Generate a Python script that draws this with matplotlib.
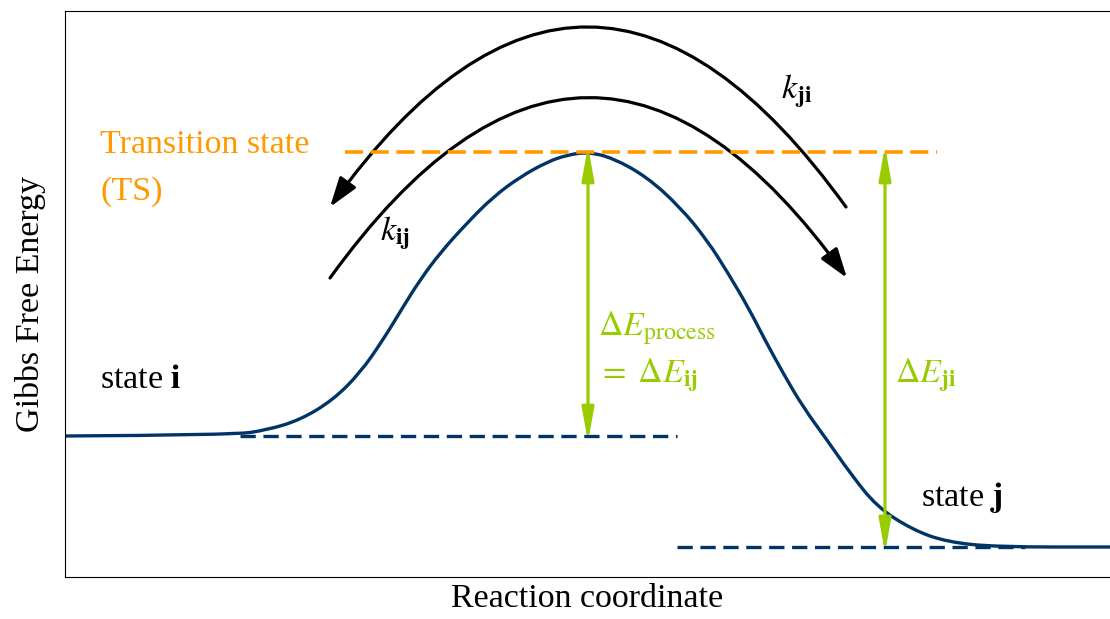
import matplotlib
matplotlib.use("Agg")
import matplotlib.pyplot as plt
from matplotlib.path import Path
from matplotlib.patches import PathPatch, FancyArrowPatch

plt.rcParams["font.family"] = "serif"
plt.rcParams["font.serif"] = ["Liberation Serif", "DejaVu Serif"]
plt.rcParams["mathtext.fontset"] = "stix"
plt.rcParams["lines.scale_dashes"] = False

NAVY = "#003366"
ORANGE = "#FF9900"
GREEN = "#99CC00"

# energy levels (arbitrary units)
E_i = 141
E_ts = 425
E_j = 30

# reaction profile
curve_x = [0, 168, 202, 235, 268, 295, 318, 338, 355, 375, 402, 428, 455, 482,
           502, 523, 548, 582, 615, 642, 663, 683, 700, 718, 738, 762, 785, 812,
           848, 882, 932, 1045]
curve_E = [141, 142, 147, 157, 177, 204, 237, 270, 297, 324, 354, 380, 400, 415,
           422, 425, 419, 400, 370, 337, 304, 270, 237, 204, 170, 137, 104, 70,
           47, 35, 30, 30]

# extent of the dashed reference levels
ts_span = [280, 872]
i_span = [175, 612]
j_span = [612, 960]

# x positions of the barrier arrows
x_barrier_ij = 523
x_barrier_ji = 820

fig = plt.figure(figsize=(11.1, 6.19), dpi=100)
ax = fig.add_axes([65 / 1110, 42 / 619, 1045 / 1110, 566 / 619])
ax.set_xlim(0, 1045)
ax.set_ylim(0, 566)
ax.set_xticks([])
ax.set_yticks([])
ax.spines["right"].set_visible(False)

# rate arrows (k_ji over the top, k_ij underneath)
arc_style = "-|>,head_length=0.9,head_width=0.3"
ax.add_patch(FancyArrowPatch((781, 370), (265, 370), arrowstyle=arc_style,
                             connectionstyle="arc3,rad=0.694", color="black",
                             lw=2.3, shrinkA=0, shrinkB=0, mutation_scale=20))
ax.add_patch(FancyArrowPatch((265, 299), (782, 299), arrowstyle=arc_style,
                             connectionstyle="arc3,rad=-0.694", color="black",
                             lw=2.3, shrinkA=0, shrinkB=0, mutation_scale=20))

# levels
ax.plot(ts_span, [E_ts, E_ts], color=ORANGE, lw=2.6, dashes=(13, 5.5))
ax.plot(i_span, [E_i, E_i], color=NAVY, lw=2.4, dashes=(11, 5.5))
ax.plot(j_span, [E_j, E_j], color=NAVY, lw=2.4, dashes=(11, 5.5))

# smooth the read points with quadratic segments through the midpoints
pts = list(zip(curve_x, curve_E))
verts = [pts[0]]
codes = [Path.MOVETO]
for k in range(1, len(pts) - 1):
    mid = ((pts[k][0] + pts[k + 1][0]) / 2, (pts[k][1] + pts[k + 1][1]) / 2)
    verts += [pts[k], mid]
    codes += [Path.CURVE3, Path.CURVE3]
verts.append(pts[-1])
codes.append(Path.LINETO)
ax.add_patch(PathPatch(Path(verts, codes), fill=False, edgecolor=NAVY, lw=2.4,
                       capstyle="round", joinstyle="round"))

# barrier arrows; narrow heads get pulled back by the stroke, so pad the tips
tip = 6
bar_style = "<|-|>,head_length=1.0,head_width=0.18"
for xb, lo in [(x_barrier_ij, E_i), (x_barrier_ji, E_j)]:
    ax.add_patch(FancyArrowPatch((xb, E_ts + tip), (xb, lo - tip),
                                 arrowstyle=bar_style, color=GREEN, lw=2.3,
                                 shrinkA=0, shrinkB=0, mutation_scale=20))

fs = 24.5
ax.text(35, 424, "Transition state", color=ORANGE, fontsize=fs)
ax.text(35, 377, "(TS)", color=ORANGE, fontsize=fs)
ax.text(35, 189, r"state $\mathbf{i}$", fontsize=fs)
ax.text(856, 71, r"state $\mathbf{j}$", fontsize=fs)
ax.text(315, 337, r"$k_{\mathbf{ij}}$", fontsize=fs)
ax.text(716, 479, r"$k_{\mathbf{ji}}$", fontsize=fs)
ax.text(533, 242, r"$\Delta E_{\mathrm{process}}$", color=GREEN, fontsize=fs)
ax.text(533, 194, r"$=\;\Delta E_{\mathbf{ij}}$", color=GREEN, fontsize=fs)
ax.text(830, 194, r"$\Delta E_{\mathbf{ji}}$", color=GREEN, fontsize=fs)

ax.set_xlabel("Reaction coordinate", fontsize=fs, labelpad=5)
ax.set_ylabel("Gibbs Free Energy", fontsize=fs)
ax.yaxis.set_label_coords(-0.018, 0.482)

fig.savefig("out.png", dpi=100)
